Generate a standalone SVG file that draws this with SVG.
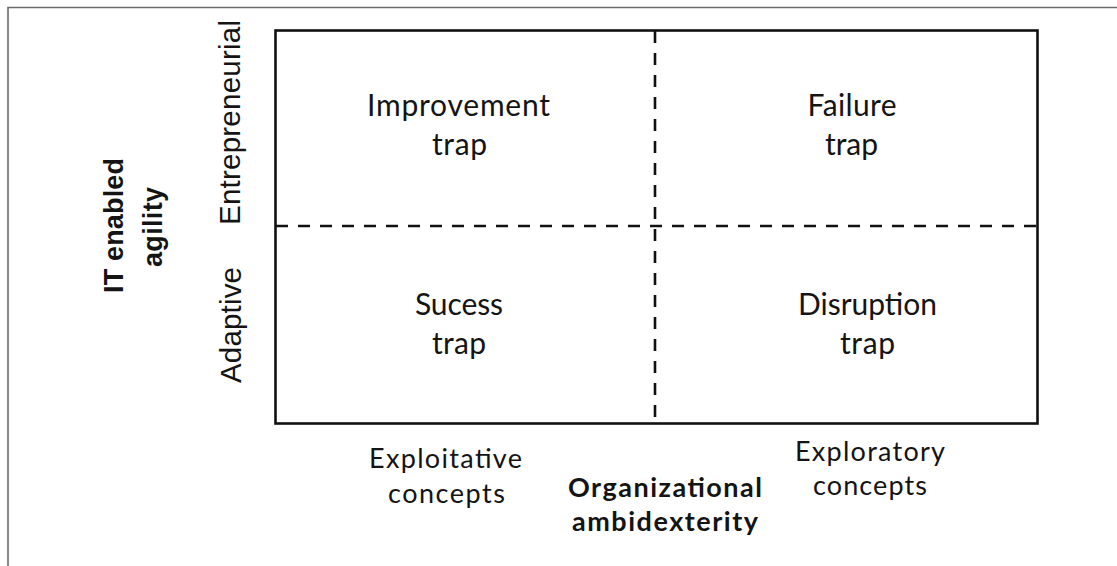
<svg xmlns="http://www.w3.org/2000/svg" width="1117" height="566" viewBox="0 0 1117 566">
<style>
.q{font-family:Lato,"Open Sans","Liberation Sans",sans-serif;font-size:30px;fill:#141414;text-anchor:middle}
.b{font-family:Lato,"Open Sans","Liberation Sans",sans-serif;font-size:27px;fill:#141414;text-anchor:middle}
.bb{font-family:Lato,"Open Sans","Liberation Sans",sans-serif;font-size:27px;font-weight:bold;fill:#141414;text-anchor:middle}
.v{font-family:"Liberation Sans",Arial,sans-serif;font-size:29.5px;fill:#141414;text-anchor:middle}
.vb{font-family:"Liberation Sans",Arial,sans-serif;font-size:27px;font-weight:bold;fill:#141414;text-anchor:middle}
.dash{stroke:#111;stroke-width:2.6;stroke-dasharray:12 10;fill:none}
</style>
<rect width="1117" height="566" fill="#fff"/>
<g id="frame">
<path d="M8 566 V7.5 H1117" fill="none" stroke="#6b6b6b" stroke-width="1.6"/>
</g>
<g id="matrix">
<rect x="275.5" y="30.5" width="762" height="393" fill="none" stroke="#111" stroke-width="2.6"/>
</g>
<g id="connectors">
<line class="dash" x1="655" y1="31" x2="655" y2="423"/>
<line class="dash" x1="276" y1="226" x2="1037" y2="226"/>
</g>
<g id="q-improvement">
<text class="q" x="458.5" y="116" textLength="183">Improvement</text>
<text class="q" x="459.5" y="155" textLength="55">trap</text>
</g>
<g id="q-failure">
<text class="q" x="852" y="116" textLength="89">Failure</text>
<text class="q" x="851.5" y="155" textLength="53">trap</text>
</g>
<g id="q-success">
<text class="q" x="459" y="315" textLength="88">Sucess</text>
<text class="q" x="459" y="354" textLength="54">trap</text>
</g>
<g id="q-disruption">
<text class="q" x="867.5" y="315" textLength="139">Disruption</text>
<text class="q" x="867.5" y="354" textLength="55">trap</text>
</g>
<g id="y-axis">
<text class="vb" transform="translate(123 225.5) rotate(-90)" x="0" y="0" textLength="135">IT enabled</text>
<text class="vb" transform="translate(162 227) rotate(-90)" x="0" y="0" textLength="80">agility</text>
<text class="v" transform="translate(240 122.5) rotate(-90)" x="0" y="0" textLength="205">Entrepreneurial</text>
<text class="v" transform="translate(241 325) rotate(-90)" x="0" y="0" textLength="116">Adaptive</text>
</g>
<g id="x-axis">
<text class="b" x="445.5" y="468" textLength="153">Exploitative</text>
<text class="b" x="446.5" y="503" textLength="117">concepts</text>
<text class="bb" x="665" y="497" textLength="194">Organizational</text>
<text class="bb" x="665" y="531" textLength="186">ambidexterity</text>
<text class="b" x="870" y="461" textLength="150">Exploratory</text>
<text class="b" x="870" y="495" textLength="114">concepts</text>
</g>
</svg>
